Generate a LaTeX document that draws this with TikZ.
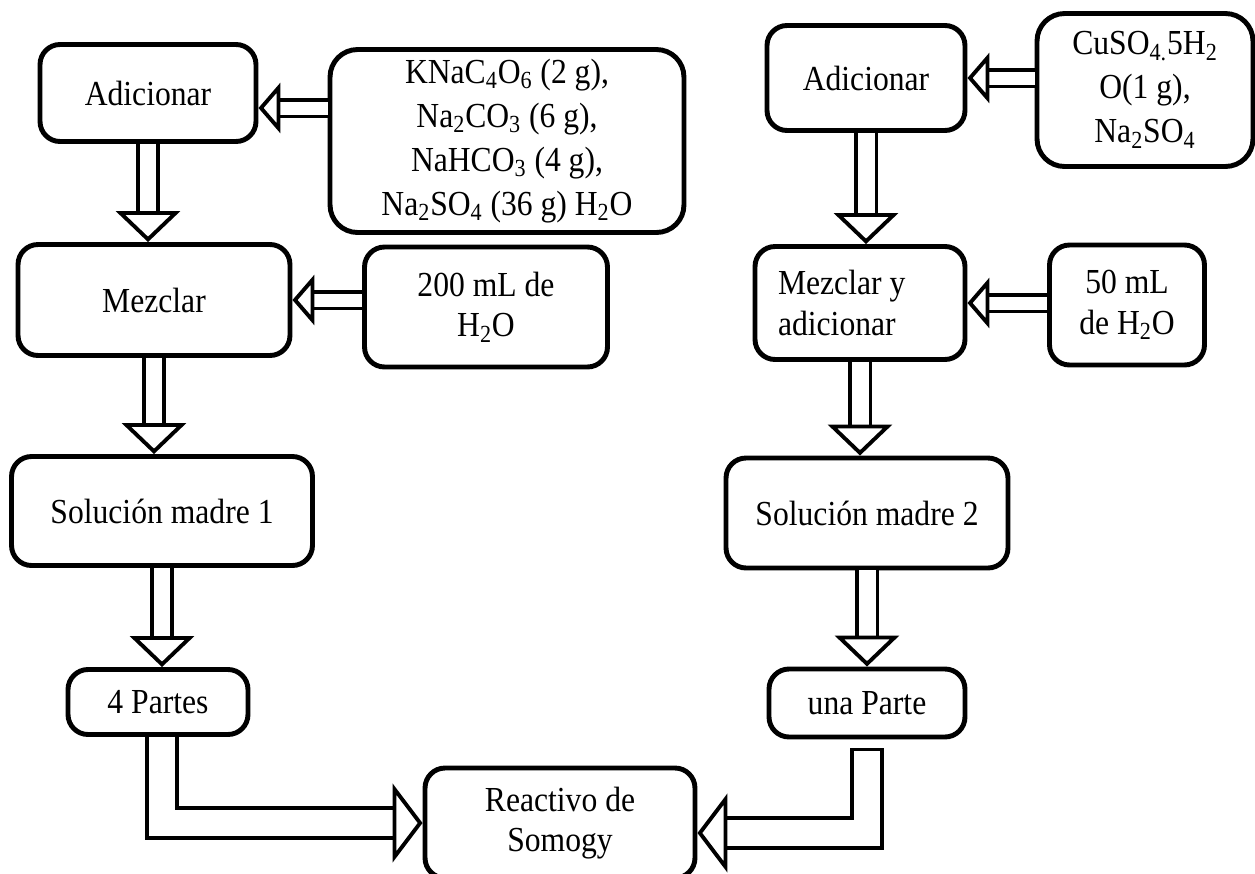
\documentclass[tikz,border=0pt]{standalone}
\usepackage{fontspec}
\setmainfont{Liberation Serif}[FakeStretch=0.9]
\usepackage{tikz}
\usetikzlibrary{arrows.meta}
\tikzset{
  box/.style={draw=black, line width=2.8pt, rounded corners=0.4cm, align=center, inner sep=3pt, font=\fontsize{20}{23}\selectfont},
  bigbox/.style={box, rounded corners=0.55cm, font=\fontsize{20}{25}\selectfont},
  downflow/.style={draw=black, line width=2.2pt, double=white, double distance=0.34cm, -{Triangle[width=1.28cm, length=0.62cm, line width=2.2pt, fill=white]}},
  sideflow/.style={draw=black, line width=2.2pt, double=white, double distance=0.26cm, -{Triangle[width=1.0cm, length=0.44cm, line width=2.2pt, fill=white]}},
  bendflow/.style={draw=black, line width=2.2pt, double=white, double distance=0.52cm, line join=miter, -{Triangle[width=1.57cm, length=0.6cm, line width=2.2pt, fill=white]}}
}
\begin{document}
\begin{tikzpicture}[x=0.02cm, y=-0.02cm]
\useasboundingbox (0,0) rectangle (1255,873);
\node[box, minimum width=4.32cm, minimum height=1.94cm] (add1) at (148,93) {Adicionar};
\node[bigbox, minimum width=7.08cm, minimum height=3.66cm] (chem1) at (507,141) {KNaC\textsubscript{4}O\textsubscript{6} (2 g),\\Na\textsubscript{2}CO\textsubscript{3} (6 g),\\NaHCO\textsubscript{3} (4 g),\\Na\textsubscript{2}SO\textsubscript{4} (36 g) H\textsubscript{2}O};
\node[box, minimum width=5.44cm, minimum height=2.22cm] (mez1) at (154,300) {Mezclar};
\node[box, minimum width=4.86cm, minimum height=2.4cm] (w200) at (486,307) {200 mL de\\H\textsubscript{2}O};
\node[box, minimum width=6.02cm, minimum height=2.18cm] (sol1) at (162,511) {Solución madre 1};
\node[box, minimum width=3.6cm, minimum height=1.3cm] (p4) at (158,702) {4 Partes};
\node[box, minimum width=5.4cm, minimum height=2.2cm] (reac) at (560,823) {Reactivo de\\Somogy};
\node[box, minimum width=3.96cm, minimum height=2.1cm] (add2) at (866,78) {Adicionar};
\node[bigbox, minimum width=4.32cm, minimum height=3.06cm] (cuso) at (1145,90) {CuSO\textsubscript{4.}5H\textsubscript{2}\\O(1 g),\\Na\textsubscript{2}SO\textsubscript{4}};
\node[box, align=flush left, text width=3.28cm, inner xsep=0.46cm, minimum height=2.26cm] (mez2) at (860,303) {Mezclar y\\adicionar};
\node[box, minimum width=3.1cm, minimum height=2.4cm] (w50) at (1127,305) {50 mL\\de H\textsubscript{2}O};
\node[box, minimum width=5.64cm, minimum height=2.2cm] (sol2) at (867,513) {Solución madre 2};
\node[box, minimum width=3.92cm, minimum height=1.36cm] (una) at (867,703) {una Parte};
\draw[downflow] (add1.south) -- (add1.south |- mez1.north);
\draw[downflow] (mez1.south) -- (mez1.south |- sol1.north);
\draw[downflow] (sol1.south) -- (sol1.south |- p4.north);
\draw[downflow] (add2.south) -- (add2.south |- mez2.north);
\draw[downflow] (mez2.south) -- (mez2.south |- sol2.north);
\draw[downflow] (sol2.south) -- (sol2.south |- una.north);
\draw[sideflow] ([yshift=-0.3cm]add1.east -| chem1.west) -- ([yshift=-0.3cm]add1.east);
\draw[sideflow] (mez1.east -| w200.west) -- (mez1.east);
\draw[sideflow] (add2.east -| cuso.west) -- (add2.east);
\draw[sideflow] (mez2.east -| w50.west) -- (mez2.east);
\draw[bendflow] ([xshift=0.08cm]p4.south) |- (reac.west);
\draw[bendflow, line cap=rect] ([yshift=-0.5cm]una.south) |- ([yshift=-0.2cm]reac.east);
\end{tikzpicture}
\end{document}
